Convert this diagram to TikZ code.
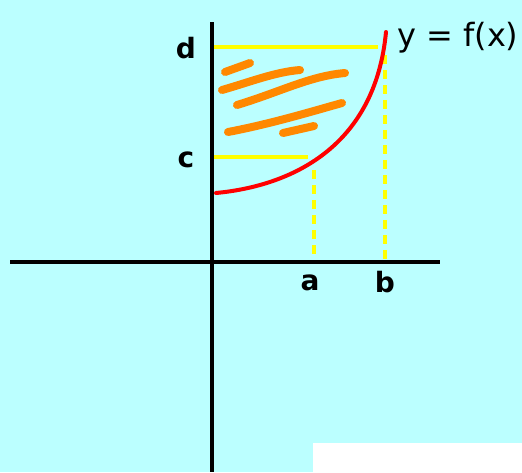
\documentclass[tikz,border=0pt]{standalone}
\usepackage{fontspec}
\setmainfont{DejaVu Sans}
\begin{document}
\begin{tikzpicture}[x=1pt,y=-1pt,
  axis/.style={line width=4pt,black},
  ylw/.style={line width=4pt,color={rgb,255:red,255;green,255;blue,0}},
  ydash/.style={ylw,dash pattern=on 9pt off 6pt},
  curve/.style={line width=4pt,color={rgb,255:red,255;green,0;blue,0},line cap=round},
  scrib/.style={line width=8pt,color={rgb,255:red,255;green,136;blue,0},line cap=round},
  lbl/.style={font=\fontsize{28}{28}\selectfont\bfseries,inner sep=0pt},
  ]
\fill[color={rgb,255:red,187;green,255;blue,255}] (0,0) rectangle (522,472);
\useasboundingbox (0,0) rectangle (522,472);
\fill[white] (313,443) rectangle (522,472);
% coordinates
\coordinate (yt) at (212,22);
\coordinate (yb) at (212,472);
\coordinate (xl) at (10,262);
\coordinate (xr) at (440,262);
\coordinate (d0) at (214,47);
\coordinate (d1) at (378,47);
\coordinate (c0) at (214,157);
\coordinate (c1) at (308,157);
\coordinate (a0) at (314,170);
\coordinate (a1) at (314,262);
\coordinate (b0) at (385,55);
\coordinate (b1) at (385,262);
\coordinate (f0) at (216,193);
\coordinate (f1) at (386,32);
% yellow lines
\draw[ylw] (d0) -- (d1);
\draw[ylw] (c0) -- (c1);
\draw[ydash] (a0) -- (a1);
\draw[ydash] (b0) -- (b1);
% axes
\draw[axis] (yt) -- (yb);
\draw[axis] (xl) -- (xr);
% curve
\draw[curve] (f0) .. controls (290,186) and (375,148) .. (f1);
% scribbles
\draw[scrib] (225,72) -- (250,63);
\draw[scrib] (222,90) .. controls (250,82) and (275,72) .. (300,70);
\draw[scrib] (237,105) .. controls (280,92) and (310,76) .. (345,73);
\draw[scrib] (228,132) .. controls (270,124) and (310,112) .. (342,103);
\draw[scrib] (283,133) -- (314,126);
% labels
\node[lbl] (ld) at (186,48) {d};
\node[lbl] (lc) at (186,160) {c};
\node[lbl] (la) at (310,283) {a};
\node[lbl] (lb) at (385,282) {b};
\node[font=\fontsize{32}{32}\selectfont,inner sep=0pt,anchor=west] (lf) at (397,38) {y = f(x)};
\end{tikzpicture}
\end{document}
